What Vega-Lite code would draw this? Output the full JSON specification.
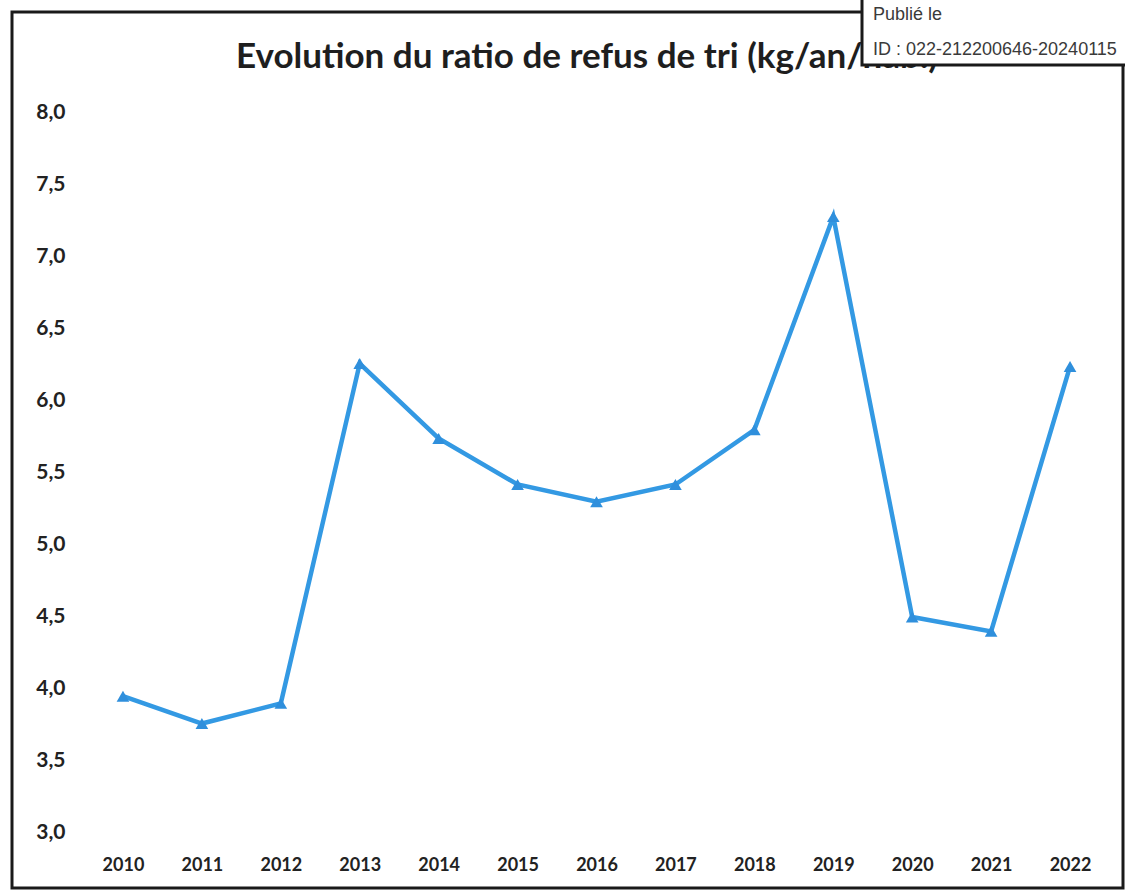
{
  "$schema": "https://vega.github.io/schema/vega-lite/v6.json",
  "autosize": {"type": "none"},
  "padding": {"left": 12, "top": 12, "right": 2, "bottom": 7},
  "width": 1111,
  "height": 876,
  "background": "white",
  "config": {
    "view": {"stroke": "#1a1a1a", "strokeWidth": 3},
    "font": "Lato"
  },
  "datasets": {
    "ratios": [
      {"annee": 2010, "ratio": 3.95},
      {"annee": 2011, "ratio": 3.76},
      {"annee": 2012, "ratio": 3.9},
      {"annee": 2013, "ratio": 6.26},
      {"annee": 2014, "ratio": 5.74},
      {"annee": 2015, "ratio": 5.42},
      {"annee": 2016, "ratio": 5.3},
      {"annee": 2017, "ratio": 5.42},
      {"annee": 2018, "ratio": 5.8},
      {"annee": 2019, "ratio": 7.28},
      {"annee": 2020, "ratio": 4.5},
      {"annee": 2021, "ratio": 4.4},
      {"annee": 2022, "ratio": 6.24}
    ],
    "une": [{"n": 1}]
  },
  "layer": [
    {
      "data": {"name": "ratios"},
      "mark": {"type": "line", "color": "#3399e3", "strokeWidth": 4.5},
      "encoding": {
        "x": {
          "field": "annee",
          "type": "quantitative",
          "scale": {"domain": [2008.594, 2022.671], "nice": false, "zero": false},
          "axis": {
            "title": null,
            "values": [2010, 2011, 2012, 2013, 2014, 2015, 2016, 2017, 2018, 2019, 2020, 2021, 2022],
            "format": "d",
            "domain": false,
            "ticks": false,
            "grid": false,
            "offset": -36,
            "labelPadding": 4,
            "labelBaseline": "top",
            "labelFont": "Lato",
            "labelFontSize": 18,
            "labelFontWeight": "bold",
            "labelColor": "#222222"
          }
        },
        "y": {
          "field": "ratio",
          "type": "quantitative",
          "scale": {"domain": [2.618, 8.701], "nice": false, "zero": false},
          "axis": {
            "title": null,
            "values": [3, 3.5, 4, 4.5, 5, 5.5, 6, 6.5, 7, 7.5, 8],
            "labelExpr": "replace(format(datum.value, '.1f'), '.', ',')",
            "domain": false,
            "ticks": false,
            "grid": false,
            "offset": -58,
            "labelPadding": 5,
            "labelFont": "Lato",
            "labelFontSize": 21,
            "labelFontWeight": "bold",
            "labelColor": "#222222"
          }
        }
      }
    },
    {
      "data": {"name": "ratios"},
      "mark": {"type": "point", "shape": "triangle-up", "filled": true, "size": 160, "color": "#2f8fdc", "opacity": 1},
      "encoding": {
        "x": {"field": "annee", "type": "quantitative"},
        "y": {"field": "ratio", "type": "quantitative"}
      }
    },
    {
      "data": {"name": "une"},
      "mark": {"type": "text", "align": "center", "baseline": "alphabetic", "font": "Lato", "fontSize": 35, "fontWeight": "bold", "color": "#1e1e1e", "clip": false},
      "encoding": {
        "x": {"datum": 2015.879, "type": "quantitative"},
        "y": {"datum": 8.3125, "type": "quantitative"},
        "text": {"value": "Evolution du ratio de refus de tri (kg/an/hab.)"}
      }
    },
    {
      "data": {"name": "une"},
      "mark": {"type": "rect", "fill": "white", "stroke": "#1a1a1a", "strokeWidth": 3, "clip": false},
      "encoding": {
        "x": {"datum": 2019.364, "type": "quantitative"},
        "x2": {"datum": 2023.0},
        "y": {"datum": 8.333, "type": "quantitative"},
        "y2": {"datum": 8.9}
      }
    },
    {
      "data": {"name": "une"},
      "mark": {"type": "text", "align": "left", "baseline": "alphabetic", "font": "Liberation Sans", "fontSize": 18, "color": "#3a3a3a", "clip": false},
      "encoding": {
        "x": {"datum": 2019.503, "type": "quantitative"},
        "y": {"datum": 8.645, "type": "quantitative"},
        "text": {"value": "Publié le"}
      }
    },
    {
      "data": {"name": "une"},
      "mark": {"type": "text", "align": "left", "baseline": "alphabetic", "font": "Liberation Sans", "fontSize": 18, "color": "#3a3a3a", "clip": false},
      "encoding": {
        "x": {"datum": 2019.503, "type": "quantitative"},
        "y": {"datum": 8.405, "type": "quantitative"},
        "text": {"value": "ID : 022-212200646-20240115"}
      }
    }
  ]
}
